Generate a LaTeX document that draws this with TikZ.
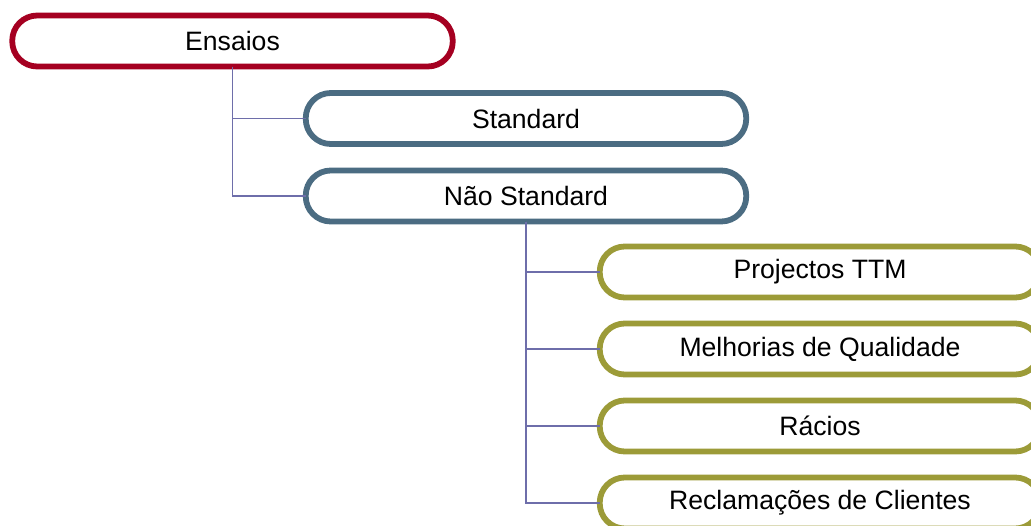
\documentclass[tikz,border=0pt]{standalone}
\usepackage{fontspec}
\setmainfont{Liberation Sans}
\definecolor{redb}{HTML}{A50021}
\definecolor{blueb}{HTML}{4B6C82}
\definecolor{oliveb}{HTML}{9C9B38}
\definecolor{connc}{HTML}{6E6EAA}
\begin{document}
\begin{tikzpicture}[x=1pt,y=-1pt,
  box/.style={draw, line width=5.8pt, rounded corners=25pt, minimum width=440.5pt,
    minimum height=51pt, inner sep=0pt, outer sep=0pt, fill=white,
    font=\fontsize{26.6}{30}\selectfont},
  lvlone/.style={box, draw=redb},
  lvltwo/.style={box, draw=blueb},
  lvlthree/.style={box, draw=oliveb},
  conn/.style={draw=connc, line width=1.8pt}]
\useasboundingbox (0,0) rectangle (1031,525);
\clip (0,0) rectangle (1031,525);
\node[lvlone] (ens) at (232.5,41) {Ensaios};
\node[lvltwo] (std) at (526,118.5) {Standard};
\node[lvltwo] (nstd) at (526,196) {Não Standard};
\node[lvlthree] (ttm) at (820,272) {Projectos TTM};
\node[lvlthree] (mel) at (820,349) {Melhorias de Qualidade};
\node[lvlthree] (rac) at (820,426) {Rácios};
\node[lvlthree] (rec) at (820,503) {Reclamações de Clientes};
\draw[conn] (ens.south) |- (std.west);
\draw[conn] (ens.south) |- (nstd.west);
\draw[conn] (nstd.south) |- (ttm.west);
\draw[conn] (nstd.south) |- (mel.west);
\draw[conn] (nstd.south) |- (rac.west);
\draw[conn] (nstd.south) |- (rec.west);
\end{tikzpicture}
\end{document}
